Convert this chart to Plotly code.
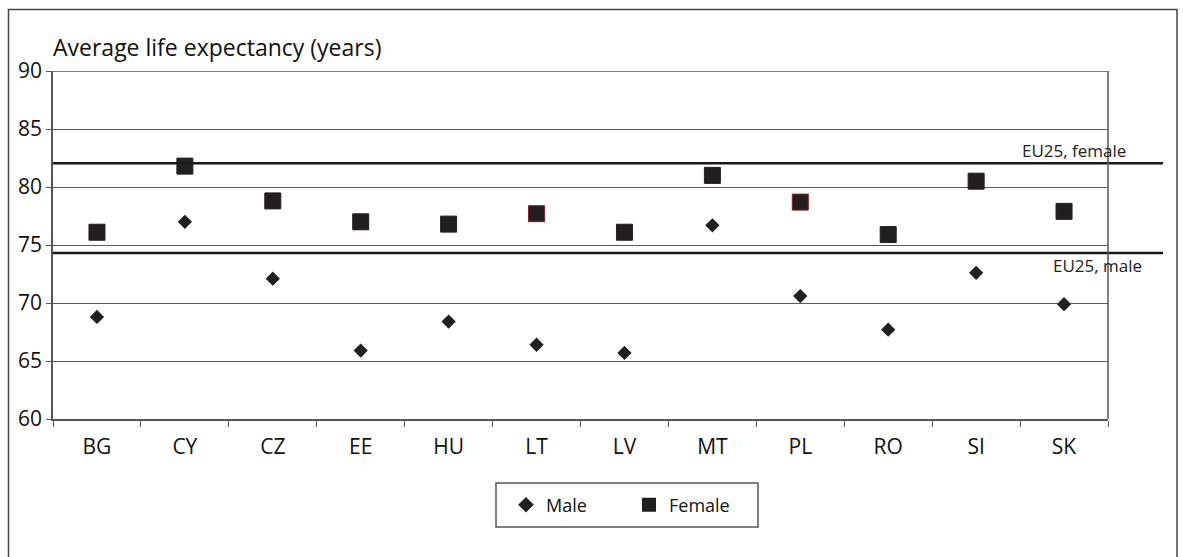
import plotly.graph_objects as go

countries = ["BG", "CY", "CZ", "EE", "HU", "LT", "LV", "MT", "PL", "RO", "SI", "SK"]
male = [68.8, 77.0, 72.1, 65.9, 68.4, 66.4, 65.7, 76.7, 70.6, 67.7, 72.6, 69.9]
female = [76.1, 81.8, 78.8, 77.0, 76.8, 77.7, 76.1, 81.0, 78.7, 75.9, 80.5, 77.9]
female_outline = ["#231f20", "#231f20", "#231f20", "#231f20", "#231f20", "#8b1a1a",
                  "#231f20", "#231f20", "#8b1a1a", "#231f20", "#231f20", "#231f20"]
eu25_female = 82.05
eu25_male = 74.3
y_ticks = [60, 65, 70, 75, 80, 85, 90]

FONT = "Open Sans"
INK = "#231f20"
TXT = "#111111"

fig = go.Figure()
fig.add_trace(go.Scatter(
    x=countries, y=male, mode="markers", name="Male",
    marker=dict(symbol="diamond", size=11, color=INK, line=dict(width=0)),
))
fig.add_trace(go.Scatter(
    x=countries, y=female, mode="markers", name="Female",
    marker=dict(symbol="square", size=16, color=INK,
                line=dict(width=1, color=female_outline)),
))

W, H = 1183, 557
L, R, T, B = 53, 1108, 71, 419
pw, ph = R - L, B - T


def px_x(p):
    return (p - L) / pw


def px_y(p):
    return (B - p) / ph


# outer frame
fig.add_shape(type="rect", xref="paper", yref="paper",
              x0=px_x(8.5), x1=px_x(1177), y0=px_y(570), y1=px_y(9.5),
              line=dict(color="#444", width=1.5), layer="below")

# legend frame
fig.add_shape(type="rect", xref="paper", yref="paper",
              x0=px_x(496), x1=px_x(758), y0=px_y(527), y1=px_y(483),
              line=dict(color="#555", width=1.5), fillcolor="white", layer="below")

# top gridline at 90
fig.add_shape(type="line", xref="paper", yref="y", x0=0, x1=1, y0=90, y1=90,
              line=dict(color="#555", width=1.5))

# EU25 reference lines extending beyond plot
fig.add_shape(type="line", xref="paper", yref="y", x0=0, x1=px_x(1163),
              y0=eu25_female, y1=eu25_female, line=dict(color="#1a1a1a", width=2.5))
fig.add_shape(type="line", xref="paper", yref="y", x0=0, x1=px_x(1163),
              y0=eu25_male, y1=eu25_male, line=dict(color="#1a1a1a", width=2.5))
fig.add_annotation(xref="paper", yref="paper", x=px_x(1020), y=px_y(150),
                   text="EU25, female", showarrow=False, xanchor="left", yanchor="middle",
                   font=dict(family=FONT, size=17, color="#222"))
fig.add_annotation(xref="paper", yref="paper", x=px_x(1051), y=px_y(265),
                   text="EU25, male", showarrow=False, xanchor="left", yanchor="middle",
                   font=dict(family=FONT, size=17, color="#222"))

fig.add_annotation(xref="paper", yref="paper", x=px_x(51), y=px_y(47), xanchor="left",
                   yanchor="middle", text="Average life expectancy (years)",
                   showarrow=False, font=dict(family=FONT, size=23, color=TXT))

fig.update_layout(
    width=W, height=H,
    margin=dict(l=L, r=W - R, t=T, b=H - B),
    paper_bgcolor="white", plot_bgcolor="white",
    showlegend=True,
    legend=dict(orientation="h", x=px_x(506), y=px_y(505), xanchor="left", yanchor="middle",
                borderwidth=0, bgcolor="rgba(0,0,0,0)", itemsizing="constant",
                font=dict(family=FONT, size=18, color=TXT),
                itemwidth=30, entrywidthmode="pixels", entrywidth=78),
    xaxis=dict(type="category", range=[-0.5, 11.5], showgrid=False, showline=True,
               linecolor="#555", linewidth=1.5,
               ticks="outside", tickson="boundaries", ticklen=6, tickcolor="#555",
               ticklabelstandoff=8,
               tickfont=dict(family=FONT, size=21, color=TXT)),
    yaxis=dict(range=[60, 90], tickvals=y_ticks, showgrid=True, gridcolor="#5a5a5a", gridwidth=1.3,
               showline=True, linecolor="#555", linewidth=1.5, ticks="outside", ticklen=5,
               tickcolor="#555", tickfont=dict(family=FONT, size=21, color=TXT),
               zeroline=False),
)
# right edge line of plot area
fig.add_shape(type="line", xref="paper", yref="paper", x0=1, x1=1, y0=0, y1=1,
              line=dict(color="#555", width=1.5))

fig.write_html("out.html", config={"displayModeBar": False},
               post_script="document.body.style.margin='0';document.body.style.overflow='hidden';")
